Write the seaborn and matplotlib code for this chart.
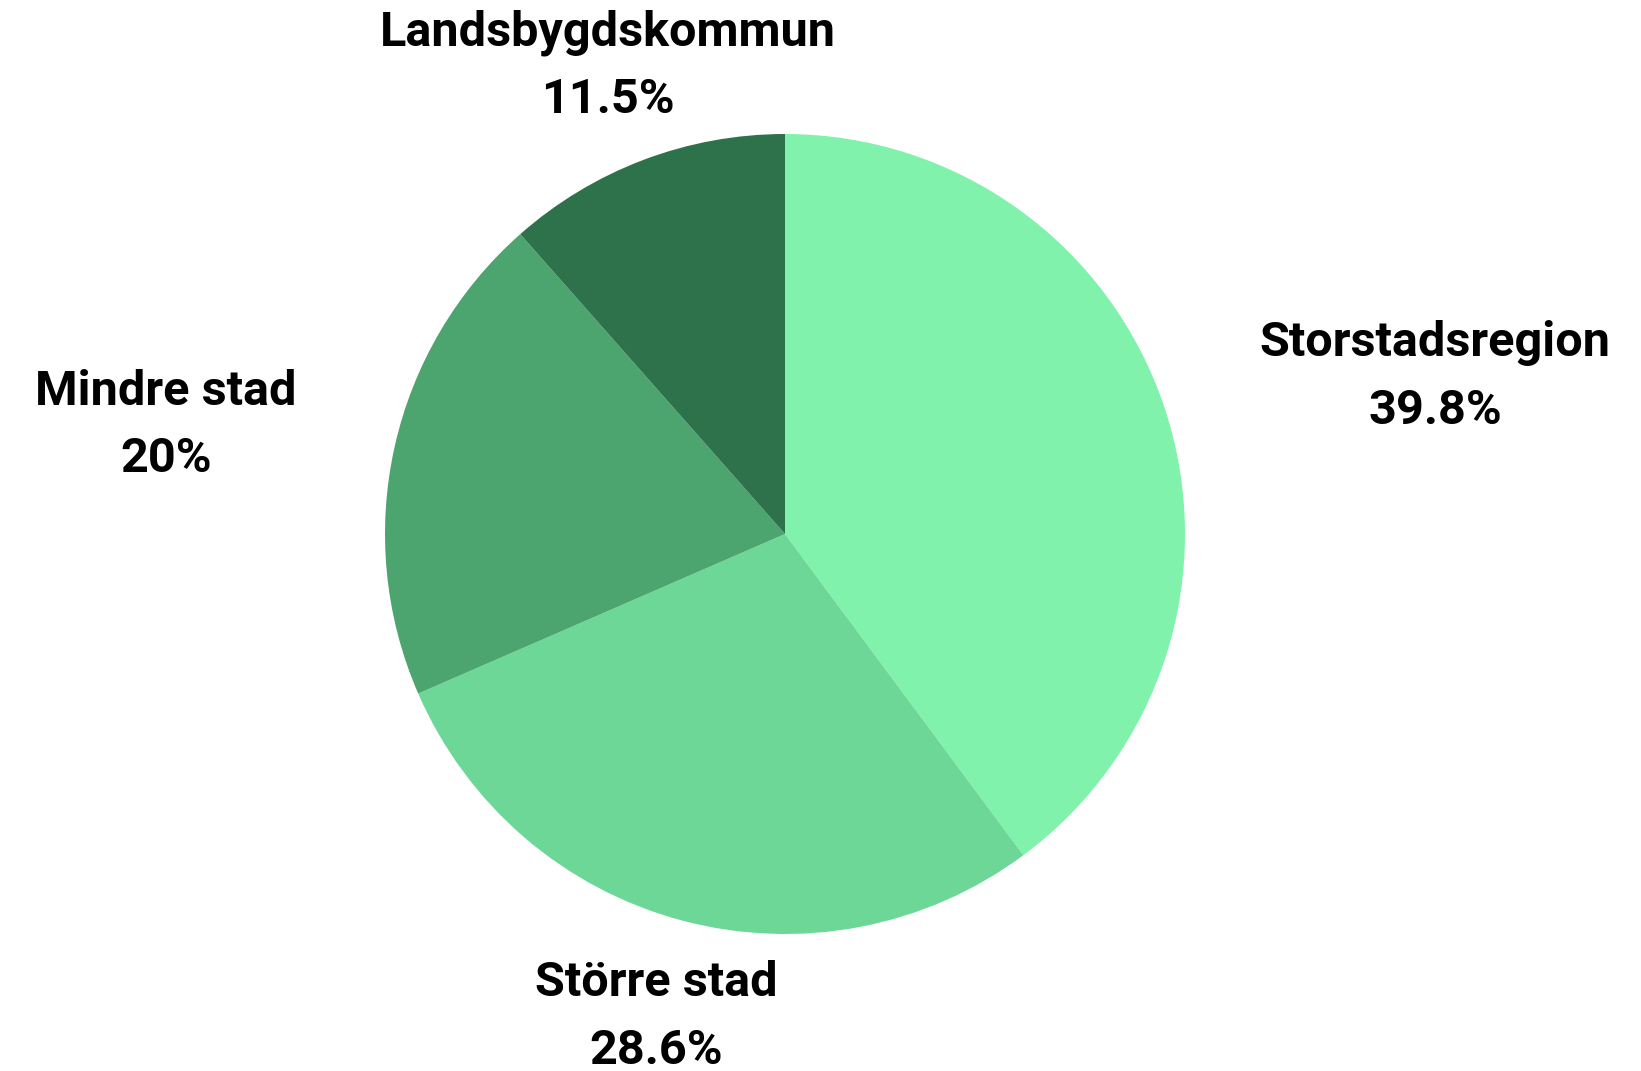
import matplotlib
matplotlib.use("Agg")
import matplotlib.pyplot as plt
import numpy as np
import seaborn as sns

# shares per municipality type (percent)
labels = ["Storstadsregion", "Större stad", "Mindre stad", "Landsbygdskommun"]
values = [39.8, 28.6, 20, 11.5]
value_text = ["39.8%", "28.6%", "20%", "11.5%"]
colors = ["#80F2AB", "#6DD797", "#4CA46F", "#2E724B"]

sns.set_theme(style="white")
plt.rcParams["font.family"] = ["Roboto", "DejaVu Sans"]

fig = plt.figure(figsize=(16.41, 10.71), dpi=100)
ax = fig.add_axes([0, 0, 1, 1])

wedges, _ = ax.pie(values, colors=colors, startangle=90, counterclock=False,
                   radius=1, wedgeprops=dict(linewidth=0))

# place pie: centre at (785, 534) px, radius 400 px
ax.set_aspect("auto")
ax.set_xlim(-785 / 400, (1641 - 785) / 400)
ax.set_ylim(-(1071 - 534) / 400, 534 / 400)
ax.axis("off")

for w, lab, txt in zip(wedges, labels, value_text):
    ang = np.deg2rad((w.theta1 + w.theta2) / 2)
    x, y = 1.25 * np.cos(ang), 1.25 * np.sin(ang)
    if np.cos(ang) > 0.5:
        ha = "left"
    elif np.cos(ang) < -0.5:
        ha = "right"
    else:
        ha = "center"
    ax.text(x, y, lab + "\n" + txt, ha=ha, va="center", multialignment="center",
            fontsize=35, fontweight="bold", color="black", linespacing=1.6)

fig.savefig("out.png", dpi=100, facecolor="white")
